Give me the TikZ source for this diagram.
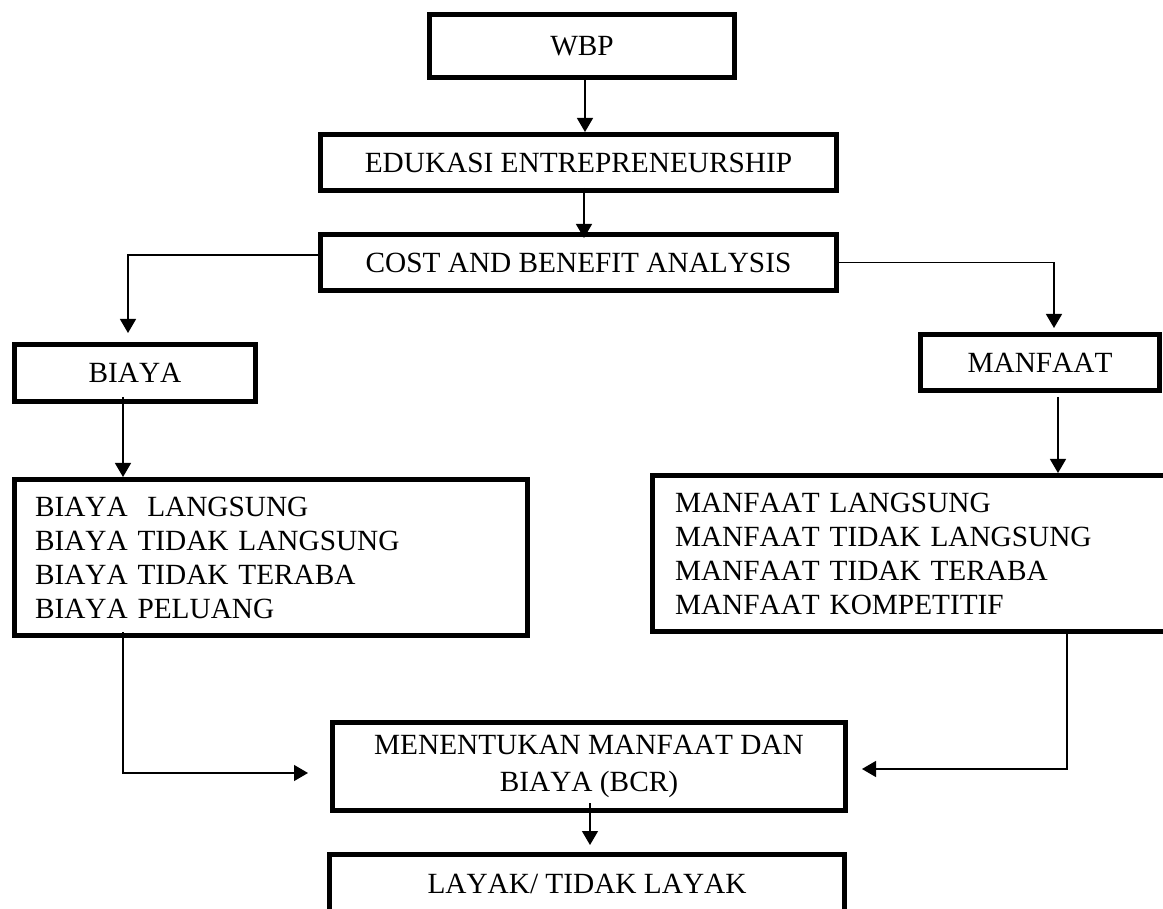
\documentclass[tikz,border=0pt]{standalone}
\usepackage{fontspec}
\setmainfont[Kerning=Off]{Liberation Serif}
\usetikzlibrary{arrows.meta}
\begin{document}
\begin{tikzpicture}[x=1pt,y=-1pt,
  box/.style={draw, line width=5pt, inner xsep=4pt, inner ysep=0pt,
    font=\fontsize{29.3}{34}\selectfont, text height=19.4pt, text depth=0pt},
  listbox/.style={draw, line width=5pt, inner ysep=0pt, align=left,
    font=\fontsize{29.3}{34}\selectfont},
  arr/.style={line width=1.3pt, -{Triangle[width=16pt,length=14pt]}}]
\useasboundingbox (0,0) rectangle (1163,909);
\clip (0,0) rectangle (1163,909);
\node[box, minimum width=305pt, minimum height=63pt] (wbp) at (582,46) {WBP};
\node[box, minimum width=516pt, minimum height=56pt] (edu) at (578.5,162.5) {EDUKASI ENTREPRENEURSHIP};
\node[box, minimum width=516pt, minimum height=56pt] (cost) at (578.5,262.5) {COST AND BENEFIT ANALYSIS};
\node[box, minimum width=241pt, minimum height=57pt] (biaya) at (135,373) {BIAYA};
\node[box, minimum width=239pt, minimum height=56pt] (manfaat) at (1040,362.5) {MANFAAT};
\node[listbox, minimum width=513pt, minimum height=156pt, inner xsep=20.5pt, text width=472pt] (blist) at (271,557.5)
  {BIAYA\ \ LANGSUNG\\BIAYA TIDAK LANGSUNG\\BIAYA TIDAK TERABA\\BIAYA PELUANG};
\node[listbox, minimum width=525pt, minimum height=156pt, inner xsep=22.5pt, text width=480pt] (mlist) at (915,553.5)
  {MANFAAT LANGSUNG\\MANFAAT TIDAK LANGSUNG\\MANFAAT TIDAK TERABA\\MANFAAT KOMPETITIF};
\node[listbox, align=center, minimum width=513pt, minimum height=88pt, inner xsep=4pt,
  font=\fontsize{29.3}{37}\selectfont] (men) at (589,766.5) {MENENTUKAN MANFAAT DAN\\BIAYA (BCR)};
\node[box, minimum width=515pt, minimum height=58pt] (layak) at (587,883.5) {LAYAK/ TIDAK LAYAK};
% connectors
\draw[arr] ([xshift=3pt]wbp.south) -- ([xshift=3pt]wbp.south |- edu.north);
\draw[arr] ([xshift=5.5pt,yshift=5pt]edu.south) -- ([xshift=5.5pt,yshift=-6pt]edu.south |- cost.north);
\draw[arr] ([yshift=7.5pt]cost.west) -| ([xshift=-7pt,yshift=9pt]biaya.north);
\draw[arr] (cost.east) -| ([xshift=14pt,yshift=4pt]manfaat.north);
\draw[arr] ([xshift=-12pt,yshift=7pt]biaya.south) -- ([xshift=-12pt]biaya.south |- blist.north);
\draw[arr] ([xshift=18pt,yshift=-4pt]manfaat.south) -- ([xshift=18pt]manfaat.south |- mlist.north);
\draw[arr] ([xshift=-148pt,yshift=6pt]blist.south) |- ([xshift=-22pt,yshift=-6.5pt]men.west);
\draw[arr] ([xshift=152pt,yshift=4pt]mlist.south) |- ([xshift=14pt,yshift=-2.5pt]men.east);
\draw[arr] ([xshift=1pt,yshift=10pt]men.south) -- ([xshift=1pt,yshift=7pt]men.south |- layak.north);
\end{tikzpicture}
\end{document}
